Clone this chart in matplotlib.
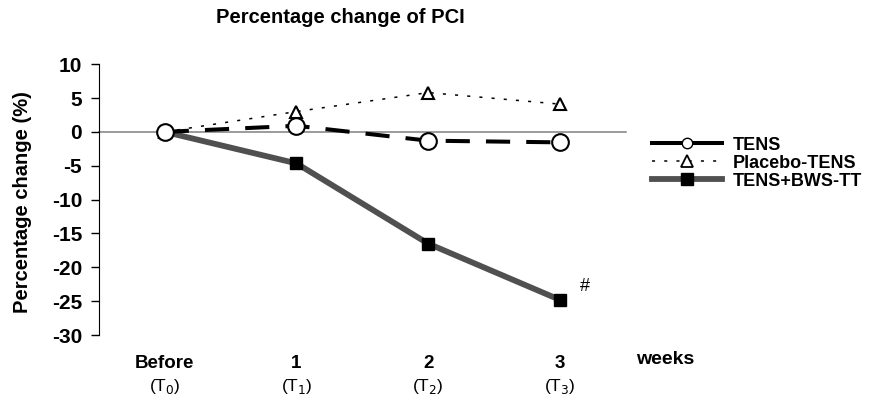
import matplotlib
matplotlib.use("Agg")
import matplotlib.pyplot as plt
from matplotlib.lines import Line2D
import numpy as np

plt.rcParams['font.family'] = ['Liberation Sans', 'DejaVu Sans']

# data
weeks = ["Before", "1", "2", "3"]
times = ["(T$_0$)", "(T$_1$)", "(T$_2$)", "(T$_3$)"]
tens = [0, 0.9, -1.3, -1.55]
placebo = [0, 3.0, 5.8, 4.1]
tens_bws = [0, -4.65, -16.5, -24.8]
yticks = [10, 5, 0, -5, -10, -15, -20, -25, -30]

x = np.arange(len(weeks))

fig = plt.figure(figsize=(8.75, 3.96), dpi=100)
ax = fig.add_axes([0.113, 0.154, 0.602, 0.684])

ax.plot(x, tens_bws, color="#505050", lw=4.2, marker="s", ms=8.5,
        mfc="black", mec="black", zorder=3)
ax.plot(x, placebo, color="black", lw=1.1, ls=(0, (2, 6)), marker="^", ms=8,
        mfc="white", mec="black", mew=1.5, zorder=4)
ax.plot(x, tens, color="black", lw=2.9, ls=(0, (6, 4)), marker="o", ms=12,
        mfc="white", mec="black", mew=1.5, zorder=5)

ax.text(x[-1] + 0.15, tens_bws[-1] + 1.9, "#", fontsize=13, va="center")

ax.set_xlim(-0.5, 3.5)
ax.set_ylim(-30, 10)
ax.set_yticks(yticks)
ax.set_yticklabels([str(v) for v in yticks], fontsize=15, fontweight="bold")
ax.tick_params(axis="y", direction="out", length=6, width=1, pad=6)
ax.set_xticks([])
ax.spines["top"].set_visible(False)
ax.spines["right"].set_visible(False)
ax.spines["bottom"].set_position(("data", 0))
ax.spines["bottom"].set_color("#808080")
ax.spines["bottom"].set_linewidth(1.1)
ax.spines["bottom"].set_zorder(1)

fig.text(0.026, 0.49, "Percentage change (%)", rotation=90, fontsize=14.5,
         fontweight="bold", ha="center", va="center")

trans = ax.get_xaxis_transform()
for xi, w, t in zip(x, weeks, times):
    ax.text(xi, -0.107, w, transform=trans, ha="center", va="center",
            fontsize=13.5, fontweight="bold")
    ax.text(xi, -0.19, t, transform=trans, ha="center", va="center", fontsize=12.5)

fig.text(0.76, 0.091, "weeks", fontsize=14, fontweight="bold", ha="center", va="center")
fig.text(0.389, 0.957, "Percentage change of PCI", fontsize=14.5, fontweight="bold",
         ha="center", va="center")

handles = [
    Line2D([], [], color="black", lw=2.9, marker="o", ms=7.5, mfc="white", mec="black"),
    Line2D([], [], color="black", lw=1.1, ls=(0, (2, 6)), marker="^", ms=8,
           mfc="white", mec="black", mew=1.3),
    Line2D([], [], color="#505050", lw=4.2, marker="s", ms=8.5, mfc="black", mec="black"),
]
fig.legend(handles, ["TENS", "Placebo-TENS", "TENS+BWS-TT"],
           loc="center left", bbox_to_anchor=(0.745, 0.588), frameon=False,
           handlelength=3.9, labelspacing=0.05, handletextpad=0.6,
           borderpad=0, borderaxespad=0,
           prop={"size": 13, "weight": "bold"})

fig.savefig("out.png", dpi=100)
